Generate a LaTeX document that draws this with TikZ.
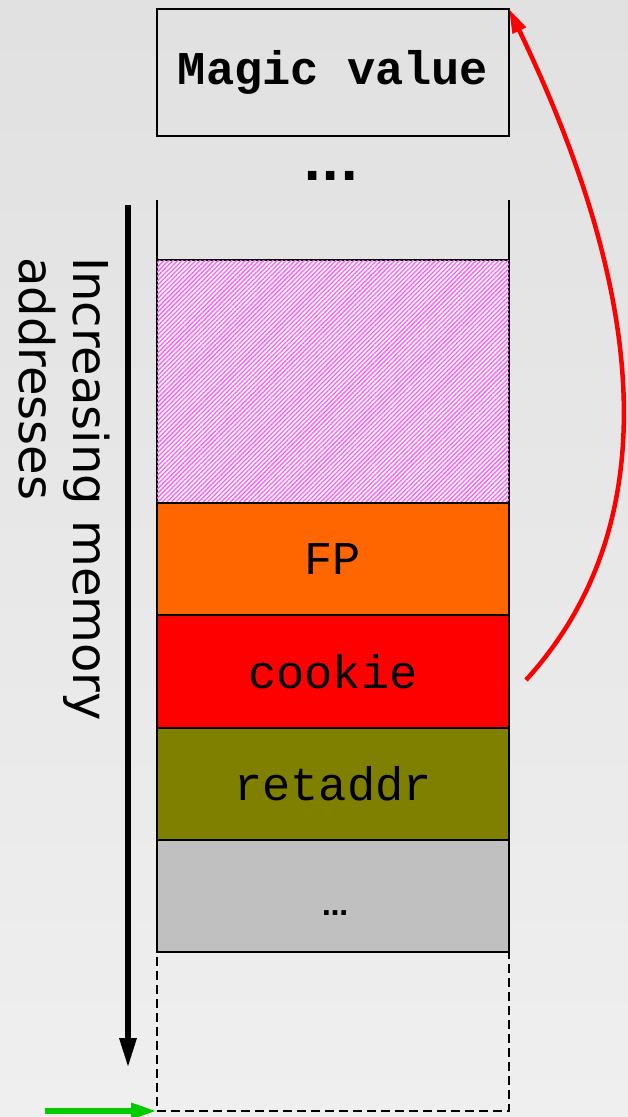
\documentclass[tikz,border=0pt]{standalone}
\usepackage{fontspec}
\setmainfont{DejaVu Sans}
\newfontfamily\codefont{Liberation Mono}
\newfontfamily\labelfont{DejaVu Sans}
\usetikzlibrary{arrows.meta,patterns.meta}
\definecolor{fpcol}{HTML}{FF6600}
\definecolor{cookiecol}{HTML}{FF0000}
\definecolor{retcol}{HTML}{808000}
\definecolor{restcol}{HTML}{C0C0C0}
\definecolor{hatchcol}{HTML}{FF5CFF}
\definecolor{bgtop}{HTML}{EBEBEB}
\definecolor{bgmid}{HTML}{E0E0E0}
\definecolor{bgbot}{HTML}{F6F6F6}
\definecolor{jumpcol}{HTML}{FF0000}
\definecolor{startcol}{HTML}{00CC00}
\pgfdeclareverticalshading{bgshade}{100bp}{color(0bp)=(bgbot); color(78bp)=(bgmid); color(100bp)=(bgtop)}
\tikzset{
  slot/.style={draw=black, line width=2.8pt, minimum width=352pt, inner sep=0pt, outer sep=0pt,
    font=\codefont\fontsize{47}{56}\selectfont},
  wall/.style={draw=black, line width=2.8pt},
}
\begin{document}
\begin{tikzpicture}[x=1pt,y=-1pt]
  % background
  \shade[shading=bgshade] (0,0) rectangle (628,1117);
  \useasboundingbox (0,0) rectangle (628,1117);

  % value stored away from the stack
  \node[slot, minimum height=127pt, font=\codefont\bfseries\fontsize{47}{56}\selectfont]
    (magic) at (333,72.5) {Magic value};
  \node[font=\labelfont\bfseries\fontsize{48}{56}\selectfont, inner sep=0pt, anchor=base]
    (gap) at (331,180) {...};

  % the stack frame, top to bottom
  \node[slot, minimum height=243pt, fill=white,
        postaction={pattern={Lines[angle=45,distance=3.2pt,line width=1.3pt]}, pattern color=hatchcol}]
    (buf) at (333,381.5) {};
  \node[slot, minimum height=112pt, fill=fpcol]     (fp)      at (333,559)   {FP};
  \node[slot, minimum height=113pt, fill=cookiecol] (cookie)  at (333,671.5) {cookie};
  \node[slot, minimum height=112pt, fill=retcol]    (retaddr) at (333,784)   {retaddr};
  \node[slot, minimum height=112pt, fill=restcol]   (rest)    at (333,896)   {};
  \node[font=\labelfont\bfseries\fontsize{26}{30}\selectfont, inner sep=0pt, anchor=base]
    (restlbl) at (335,915) {…};
  \node[slot, minimum height=159pt, dashed, dash pattern=on 9pt off 5pt, line width=2pt]
    (free) at (333,1031.5) {};

  % open walls above the frame
  \coordinate (wl) at (157,200);
  \coordinate (wr) at (509,200);
  \draw[wall] (wl) -- (buf.north west);
  \draw[wall] (wr) -- (buf.north east);

  % address direction
  \coordinate (dtop) at (128,205);
  \coordinate (dbot) at (128,1068);
  \draw[line width=6pt, -{Triangle[length=30pt,width=16pt]}] (dtop) -- (dbot);
  \node[font=\labelfont\fontsize{48}{54}\selectfont, rotate=-90, align=left,
        anchor=north west, inner sep=0pt] (lbl) at (110,257)
    {Increasing memory\\addresses};

  % the cookie is compared against the magic value
  \coordinate (cstart) at (526,680);
  \draw[jumpcol, line width=4.5pt, -{Triangle[length=24pt,width=14pt]}]
    (cstart) .. controls (690,500) and (620,240) .. (magic.north east);

  % stack pointer
  \coordinate (sp) at (45,1111);
  \draw[startcol, line width=6pt, -{Triangle[length=26pt,width=15pt]}]
    (sp) -- (free.south west);
\end{tikzpicture}
\end{document}
